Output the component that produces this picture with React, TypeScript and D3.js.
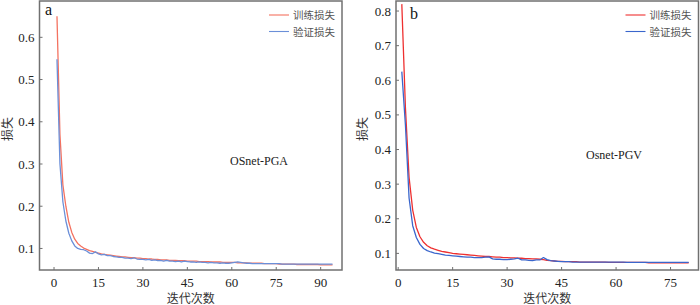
import * as d3 from 'd3';

// panel a: OSnet-PGA, epochs 1..94
const trainA = [
  0.65, 0.37, 0.25, 0.2, 0.162, 0.138, 0.122, 0.112, 0.106, 0.101,
  0.098, 0.095, 0.093, 0.091, 0.089, 0.087, 0.086, 0.085, 0.084, 0.083,
  0.082, 0.081, 0.08, 0.08, 0.079, 0.078, 0.078, 0.077, 0.077, 0.076,
  0.076, 0.075, 0.075, 0.074, 0.074, 0.073, 0.073, 0.073, 0.072, 0.072,
  0.072, 0.071, 0.071, 0.071, 0.07, 0.07, 0.07, 0.07, 0.069, 0.069,
  0.069, 0.069, 0.068, 0.068, 0.068, 0.068, 0.067, 0.067, 0.067, 0.067,
  0.067, 0.066, 0.066, 0.066, 0.066, 0.065, 0.065, 0.065, 0.065, 0.065,
  0.064, 0.064, 0.064, 0.064, 0.064, 0.063, 0.063, 0.063, 0.063, 0.063,
  0.063, 0.062, 0.062, 0.062, 0.062, 0.062, 0.062, 0.062, 0.062, 0.061,
  0.061, 0.061, 0.061, 0.061,
];
const valA = [
  0.548, 0.3, 0.21, 0.165, 0.136, 0.118, 0.106, 0.1, 0.098, 0.097,
  0.094, 0.089, 0.088, 0.092, 0.087, 0.085, 0.086, 0.083, 0.083, 0.081,
  0.08, 0.079, 0.079, 0.077, 0.077, 0.076, 0.078, 0.075, 0.074, 0.074,
  0.073, 0.074, 0.072, 0.073, 0.071, 0.072, 0.07, 0.072, 0.07, 0.07,
  0.069, 0.07, 0.068, 0.07, 0.069, 0.068, 0.068, 0.067, 0.068, 0.067,
  0.067, 0.066, 0.067, 0.066, 0.066, 0.065, 0.066, 0.065, 0.065, 0.066,
  0.067, 0.068, 0.067, 0.066, 0.065, 0.065, 0.064, 0.064, 0.064, 0.064,
  0.064, 0.064, 0.064, 0.064, 0.064, 0.064, 0.063, 0.063, 0.063, 0.063,
  0.063, 0.063, 0.063, 0.063, 0.063, 0.063, 0.063, 0.063, 0.063, 0.063,
  0.063, 0.063, 0.063, 0.063,
];

// panel b: Osnet-PGV, epochs 1..80
const trainB = [
  0.82, 0.52, 0.32, 0.225, 0.175, 0.148, 0.132, 0.122, 0.116, 0.112,
  0.109, 0.106, 0.104, 0.102, 0.1, 0.099, 0.098, 0.097, 0.096, 0.095,
  0.094, 0.093, 0.092, 0.091, 0.091, 0.09, 0.089, 0.089, 0.088, 0.088,
  0.087, 0.087, 0.086, 0.086, 0.085, 0.085, 0.084, 0.084, 0.083, 0.082,
  0.08, 0.079, 0.078, 0.077, 0.077, 0.076, 0.076, 0.076, 0.076, 0.075,
  0.075, 0.075, 0.075, 0.075, 0.075, 0.075, 0.075, 0.074, 0.074, 0.074,
  0.074, 0.074, 0.074, 0.074, 0.074, 0.074, 0.074, 0.074, 0.073, 0.073,
  0.073, 0.073, 0.073, 0.073, 0.073, 0.073, 0.073, 0.073, 0.073, 0.073,
];
const valB = [
  0.625, 0.47, 0.26, 0.18, 0.146, 0.126, 0.114, 0.108, 0.104, 0.101,
  0.099, 0.097, 0.095, 0.094, 0.093, 0.092, 0.091, 0.09, 0.089, 0.089,
  0.088, 0.088, 0.088, 0.089, 0.09, 0.084, 0.083, 0.083, 0.082, 0.082,
  0.083, 0.084, 0.086, 0.081, 0.081, 0.08, 0.079, 0.081, 0.081, 0.088,
  0.082, 0.079, 0.078, 0.077, 0.076, 0.076, 0.076, 0.075, 0.075, 0.075,
  0.075, 0.075, 0.075, 0.075, 0.075, 0.075, 0.075, 0.075, 0.075, 0.075,
  0.075, 0.075, 0.074, 0.074, 0.074, 0.074, 0.074, 0.074, 0.074, 0.074,
  0.074, 0.074, 0.074, 0.074, 0.074, 0.074, 0.074, 0.074, 0.074, 0.074,
];

const ticksXA = [0, 15, 30, 45, 60, 75, 90];
const ticksYA = [0.1, 0.2, 0.3, 0.4, 0.5, 0.6];
const ticksXB = [0, 15, 30, 45, 60, 75];
const ticksYB = [0.1, 0.2, 0.3, 0.4, 0.5, 0.6, 0.7, 0.8];

const legendLabels = ['训练损失', '验证损失'];
const xTitle = '迭代次数';
const yTitle = '损失';

const serif = '"Liberation Serif", "Times New Roman", serif';
const cjk = '"Liberation Serif", "Noto Sans CJK SC", serif';

type PanelProps = {
  left: number;
  right: number;
  top: number;
  bottom: number;
  xDomain: [number, number];
  yDomain: [number, number];
  xTicks: number[];
  yTicks: number[];
  train: number[];
  val: number[];
  colors: [string, string];
  letter: string;
  letterX: number;
  letterY: number;
  name: string;
  nameX: number;
  nameY: number;
  nameAnchor: 'start' | 'middle';
  yTitleX: number;
};

const Panel = (p: PanelProps) => {
  const x = d3.scaleLinear().domain(p.xDomain).range([p.left, p.right]);
  const y = d3.scaleLinear().domain(p.yDomain).range([p.bottom, p.top]);
  const line = d3
    .line<number>()
    .x((_, i) => x(i + 1))
    .y((d) => y(d));
  const series = [p.train, p.val];
  const legX = p.right - 72;
  return (
    <g>
      <defs>
        <clipPath id={'clip' + p.letter}>
          <rect x={p.left} y={p.top} width={p.right - p.left} height={p.bottom - p.top} />
        </clipPath>
      </defs>
      <g clipPath={`url(#clip${p.letter})`}>
        {series.map((s, i) => (
          <path key={i} d={line(s) ?? ''} fill="none" stroke={p.colors[i]} strokeWidth={1.3} strokeLinejoin="round" />
        ))}
      </g>
      <rect
        x={p.left}
        y={p.top}
        width={p.right - p.left}
        height={p.bottom - p.top}
        fill="none"
        stroke="#707070"
        strokeWidth={1.5}
      />
      {p.xTicks.map((t) => (
        <g key={'x' + t}>
          <line x1={x(t)} x2={x(t)} y1={p.bottom} y2={p.bottom - 3} stroke="#707070" strokeWidth={1} />
          <text x={x(t)} y={p.bottom + 17} textAnchor="middle" fontSize={13} fontFamily={serif} fill="#222">
            {t}
          </text>
        </g>
      ))}
      {p.yTicks.map((t) => (
        <g key={'y' + t}>
          <line x1={p.left} x2={p.left + 3} y1={y(t)} y2={y(t)} stroke="#707070" strokeWidth={1} />
          <text x={p.left - 5} y={y(t) + 4.5} textAnchor="end" fontSize={13} fontFamily={serif} fill="#222">
            {d3.format('.1f')(t)}
          </text>
        </g>
      ))}
      <text
        x={(p.left + p.right) / 2}
        y={303}
        textAnchor="middle"
        fontSize={12}
        fontFamily={cjk}
        fill="#333"
      >
        {xTitle}
      </text>
      <text
        transform={`translate(${p.yTitleX},129) rotate(-90)`}
        textAnchor="middle"
        fontSize={12}
        fontFamily={cjk}
        fill="#333"
      >
        {yTitle}
      </text>
      <text x={p.letterX} y={p.letterY} fontSize={16} fontFamily={serif} fill="#111">
        {p.letter}
      </text>
      <text x={p.nameX} y={p.nameY} textAnchor={p.nameAnchor} fontSize={12} fontFamily={serif} fill="#222">
        {p.name}
      </text>
      {legendLabels.map((l, i) => (
        <g key={l}>
          <line
            x1={legX - 1}
            x2={legX + 19}
            y1={15 + i * 16.5}
            y2={15 + i * 16.5}
            stroke={p.colors[i]}
            strokeWidth={1.1}
          />
          <text x={legX + 23} y={19 + i * 16.5} fontSize={10.5} fontFamily={cjk} fill="#555">
            {l}
          </text>
        </g>
      ))}
    </g>
  );
};

export default function App() {
  return (
    <div style={{ position: 'fixed', left: 0, top: 0, background: '#fff' }}>
      <svg width={700} height={305} style={{ display: 'block' }}>
        <rect width={700} height={305} fill="#fff" />
        <Panel
          left={39.5}
          right={342}
          top={1}
          bottom={270}
          xDomain={[-4.9, 97.2]}
          yDomain={[0.049, 0.686]}
          xTicks={ticksXA}
          yTicks={ticksYA}
          train={trainA}
          val={valA}
          colors={['#f47260', '#6b8fd8']}
          letter="a"
          letterX={45}
          letterY={15}
          name="OSnet-PGA"
          nameX={259}
          nameY={165}
          nameAnchor="middle"
          yTitleX={12}
        />
        <Panel
          left={396}
          right={698.5}
          top={1}
          bottom={270}
          xDomain={[-0.6, 82.7]}
          yDomain={[0.052, 0.829]}
          xTicks={ticksXB}
          yTicks={ticksYB}
          train={trainB}
          val={valB}
          colors={['#ee3030', '#3a66cc']}
          letter="b"
          letterX={410}
          letterY={19}
          name="Osnet-PGV"
          nameX={586}
          nameY={159}
          nameAnchor="start"
          yTitleX={367}
        />
      </svg>
    </div>
  );
}
